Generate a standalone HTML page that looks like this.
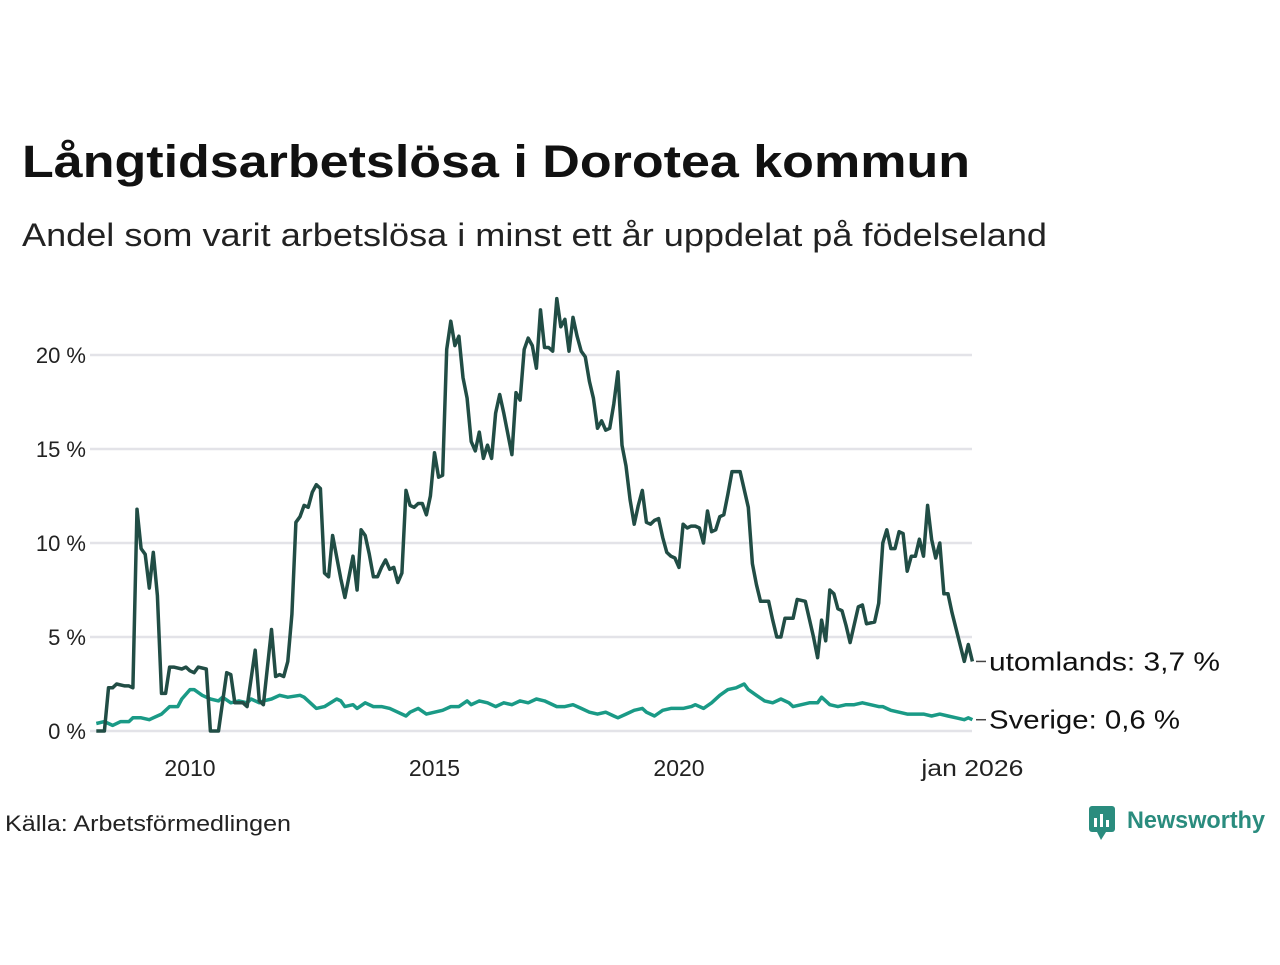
<!DOCTYPE html>
<html><head><meta charset="utf-8"><style>
body{margin:0;background:#fff;width:1280px;height:960px;overflow:hidden;font-family:"Liberation Sans",sans-serif}
</style></head><body>
<svg id="chart" width="1280" height="960" xmlns="http://www.w3.org/2000/svg" font-family="Liberation Sans, sans-serif">
<text x="22" y="177" font-size="45" font-weight="bold" fill="#111" textLength="948" lengthAdjust="spacingAndGlyphs">Långtidsarbetslösa i Dorotea kommun</text>
<text x="22" y="246" font-size="32" fill="#222" textLength="1025" lengthAdjust="spacingAndGlyphs">Andel som varit arbetslösa i minst ett år uppdelat på födelseland</text>
<g id="grid"></g>
<g id="series"></g>
<text x="5" y="831" font-size="22" fill="#222" textLength="286" lengthAdjust="spacingAndGlyphs">Källa: Arbetsförmedlingen</text>
<g>
<rect x="1089" y="806" width="26" height="26" rx="3" fill="#2a8c7e"/>
<polygon points="1097,832 1106,832 1101,840" fill="#2a8c7e"/>
<rect x="1094" y="818" width="3" height="9" fill="#fff"/><rect x="1100" y="814" width="3" height="13" fill="#fff"/><rect x="1106" y="820" width="3" height="7" fill="#fff"/>
<text x="1127" y="828" font-size="24" font-weight="bold" fill="#2a8c7e" textLength="138" lengthAdjust="spacingAndGlyphs">Newsworthy</text>
</g>
</svg>
<script>
const yTicks=[0,5,10,15,20];
const xTickYears=[2010,2015,2020];
const utoM=[1,3,4,5,6,8,9,10,11,12,13,14,15,16,17,18,19,20,22,23,24,25,26,28,29,31,33,34,35,37,38,40,41,42,44,45,46,47,48,49,50,51,52,53,54,55,56,57,58,59,61,62,64,65,66,67,68,69,70,71,72,73,74,75,76,77,78,79,80,81,82,83,84,85,86,87,88,89,90,91,92,93,94,95,96,97,98,99,100,101,103,104,105,106,107,108,109,110,111,112,113,114,115,116,117,118,119,120,121,122,123,124,125,126,127,128,129,130,131,132,133,134,135,136,137,138,139,140,141,142,143,144,145,146,147,148,149,150,151,152,153,154,155,156,157,159,161,162,163,164,166,167,168,169,170,172,173,175,177,178,179,180,181,182,183,184,185,186,188,189,190,192,193,194,195,196,197,198,199,200,201,202,203,204,205,206,207,208,209,210,211,214,215,216];
const utoV=[0,0,2.3,2.3,2.5,2.4,2.4,2.3,11.8,9.7,9.4,7.6,9.5,7.2,2.0,2.0,3.4,3.4,3.3,3.4,3.2,3.1,3.4,3.3,0,0,3.1,3.0,1.5,1.5,1.3,4.3,1.6,1.4,5.4,2.9,3.0,2.9,3.7,6.2,11.1,11.4,12.0,11.9,12.7,13.1,12.9,8.4,8.2,10.4,8.1,7.1,9.3,7.5,10.7,10.4,9.4,8.2,8.2,8.7,9.1,8.6,8.7,7.9,8.4,12.8,12.0,11.9,12.1,12.1,11.5,12.5,14.8,13.5,13.6,20.3,21.8,20.5,21.0,18.8,17.7,15.4,14.9,15.9,14.5,15.2,14.5,16.9,17.9,16.9,14.7,18.0,17.6,20.3,20.9,20.5,19.3,22.4,20.4,20.4,20.2,23.0,21.5,21.9,20.2,22.0,21.0,20.2,19.9,18.6,17.7,16.1,16.5,16.0,16.1,17.4,19.1,15.2,14.1,12.3,11.0,12.0,12.8,11.1,11.0,11.2,11.3,10.3,9.5,9.3,9.2,8.7,11.0,10.8,10.9,10.9,10.8,10.0,11.7,10.6,10.7,11.4,11.5,12.6,13.8,13.8,11.9,8.9,7.8,6.9,6.9,5.9,5.0,5.0,6.0,6.0,7.0,6.9,5.0,3.9,5.9,4.8,7.5,7.3,6.5,6.4,5.6,4.7,6.6,6.7,5.7,5.8,6.8,10.0,10.7,9.7,9.7,10.6,10.5,8.5,9.3,9.3,10.2,9.3,12.0,10.2,9.2,10.0,7.3,7.3,6.3,3.7,4.6,3.7];
const sveM=[1,3,5,7,9,10,12,14,15,17,19,21,22,24,25,27,29,31,32,34,36,38,39,41,42,44,46,48,51,52,54,55,57,60,61,62,64,65,67,69,71,73,75,77,78,80,82,84,86,88,90,92,93,95,97,99,101,103,105,107,109,111,114,116,118,120,122,124,126,128,129,131,133,135,136,138,140,142,144,145,147,148,150,152,154,156,158,160,161,163,165,167,169,171,172,174,176,178,179,181,183,185,187,189,191,193,194,196,198,200,202,204,206,208,210,212,214,215,216];
const sveV=[0.4,0.5,0.3,0.5,0.5,0.7,0.7,0.6,0.7,0.9,1.3,1.3,1.7,2.2,2.2,1.9,1.7,1.6,1.8,1.5,1.6,1.5,1.7,1.5,1.6,1.7,1.9,1.8,1.9,1.8,1.4,1.2,1.3,1.7,1.6,1.3,1.4,1.2,1.5,1.3,1.3,1.2,1.0,0.8,1.0,1.2,0.9,1.0,1.1,1.3,1.3,1.6,1.4,1.6,1.5,1.3,1.5,1.4,1.6,1.5,1.7,1.6,1.3,1.3,1.4,1.2,1.0,0.9,1.0,0.8,0.7,0.9,1.1,1.2,1.0,0.8,1.1,1.2,1.2,1.2,1.3,1.4,1.2,1.5,1.9,2.2,2.3,2.5,2.2,1.9,1.6,1.5,1.7,1.5,1.3,1.4,1.5,1.5,1.8,1.4,1.3,1.4,1.4,1.5,1.4,1.3,1.3,1.1,1.0,0.9,0.9,0.9,0.8,0.9,0.8,0.7,0.6,0.7,0.6];
const NS="http://www.w3.org/2000/svg";
const xs=m=>190+(m-24)*4.075;
const ys=v=>731-v*18.8;
const grid=document.getElementById('grid'), ser=document.getElementById('series');
function mk(tag,attrs,parent){const e=document.createElementNS(NS,tag);for(const k in attrs)e.setAttribute(k,attrs[k]);parent.appendChild(e);return e;}
yTicks.forEach(t=>{
  const l=mk('line',{x1:90,x2:972,y1:ys(t),y2:ys(t),stroke:'#e3e3e8','stroke-width':2.5},grid);
  
  
  const tx=mk('text',{x:86,y:ys(t)+8,'font-size':22,'text-anchor':'end',fill:'#222'},grid);
  tx.textContent=t+' %';
  
  
});
xTickYears.forEach(y=>{
  const tx=mk('text',{x:xs(24+(y-2010)*12),y:776,'font-size':23,'text-anchor':'middle',fill:'#222'},grid);
  tx.textContent=y;
  
  
});
const lt=mk('text',{x:xs(216),y:776,'font-size':23,'text-anchor':'middle',fill:'#222',textLength:102,lengthAdjust:'spacingAndGlyphs'},grid);
lt.textContent='jan 2026';


function line(M,V,color,name){
  const p=mk('path',{d:M.map((m,i)=>(i?'L':'M')+xs(m).toFixed(1)+','+ys(V[i]).toFixed(1)).join(''),fill:'none',stroke:color,'stroke-width':3.5,'stroke-linejoin':'round'},ser);
  
  
}
line(sveM,sveV,'#1a9a86','sverige');
line(utoM,utoV,'#214d45','utomlands');
function endLabel(M,V,txt,name,len){
  const yy=ys(V[V.length-1]);
  mk('line',{x1:976,x2:986,y1:yy,y2:yy,stroke:'#444','stroke-width':1.5},ser);
  const t=mk('text',{x:989,y:yy+9,'font-size':26,fill:'#111',textLength:len,lengthAdjust:'spacingAndGlyphs'},ser);
  t.textContent=txt;
  
  
}
endLabel(utoM,utoV,'utomlands: '+String(utoV[utoV.length-1]).replace('.',',')+' %','label-utomlands',231);
endLabel(sveM,sveV,'Sverige: '+String(sveV[sveV.length-1]).replace('.',',')+' %','label-sverige',191);
</script>
</body></html>
